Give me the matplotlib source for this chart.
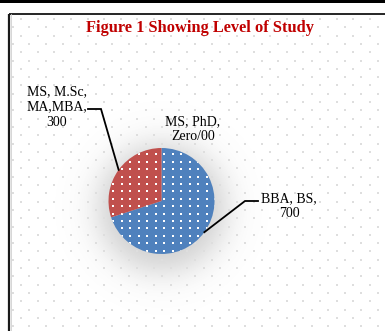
import numpy as np
import matplotlib
matplotlib.use("Agg")
import matplotlib.pyplot as plt
from matplotlib.patches import Rectangle

# Survey respondents by level of study
categories = ["BBA, BS", "MS, M.Sc,\nMA,MBA", "MS, PhD"]
values = [700, 300, 0]
value_labels = ["700", "300", "Zero/00"]
colors = ["#4F81BD", "#C0504D", "#9BBB59"]
title = "Figure 1 Showing Level of Study"

W, H = 385, 331
fig = plt.figure(figsize=(W / 100, H / 100), dpi=100)
ax = fig.add_axes([0, 0, 1, 1])
ax.set_xlim(0, W)
ax.set_ylim(0, H)
ax.axis("off")


def Y(py):
    """Convert a top-down pixel row to the axes' bottom-up coordinate."""
    return H - py


serif = ["Liberation Serif", "DejaVu Serif"]

# page rule along the top and the chart frame
ax.add_patch(Rectangle((0, Y(2.5)), W, 2.5, color="black", lw=0, zorder=5))
ax.plot([9, W], [Y(13.5), Y(13.5)], color="black", lw=1.2, zorder=5,
        solid_capstyle="butt")
ax.plot([9, 9], [Y(13.5), 0], color="#1a1a1a", lw=1.6, zorder=5,
        solid_capstyle="butt")
ax.plot([11, 11], [Y(14), 0], color="#d0d0d0", lw=0.6, zorder=5)

# soft shadow under the pie
cx, cy, R = 161.5, Y(201), 53
gx = np.linspace(cx - 130, cx + 130, 261)
gy = np.linspace(cy - 130, cy + 130, 261)
GX, GY = np.meshgrid(gx, gy)
dist = np.hypot(GX - cx, GY - (cy - 7))
alpha = 0.34 / (1 + np.exp((dist - 63) / 10.0))
glow = np.zeros(GX.shape + (4,))
glow[..., :3] = 0.45
glow[..., 3] = alpha
ax.imshow(glow, extent=(gx[0], gx[-1], gy[0], gy[-1]), origin="lower",
          zorder=1, interpolation="bilinear")
ax.set_aspect("auto")

# faint dotted background texture inside the frame
bx, by = [], []
row = 0
py = 19.0
while py < H:
    off = 4.5 if row % 2 == 0 else 12.8
    for px in np.arange(off, W, 16.6):
        if px > 12:
            bx.append(px)
            by.append(Y(py))
    py += 8.3
    row += 1
ax.scatter(bx, by, s=1.3, marker="s", color="#dedede", lw=0, zorder=2)

# the pie
wedges, _ = ax.pie(values, colors=colors, startangle=90, counterclock=False,
                   center=(cx, cy), radius=R,
                   wedgeprops=dict(linewidth=0, zorder=3))
for w in wedges:
    w.set_zorder(3)
ax.set_xlim(0, W)
ax.set_ylim(0, H)
ax.set_aspect("auto")
ax.axis("off")

# white dot fill pattern on the slices
dx, dy = 8.5, 7.4
px_grid = np.arange(cx - R - 4, cx + R + 8, dx)
py_grid = np.arange(cy - R - 4, cy + R + 8, dy)
PX, PY = np.meshgrid(px_grid, py_grid)
for w, v in zip(wedges, values):
    if v <= 0:
        continue
    sc = ax.scatter(PX.ravel(), PY.ravel(), s=2.6, marker="s", color="white",
                    lw=0, zorder=4)
    sc.set_clip_path(w)


def edge_point(w):
    ang = np.deg2rad((w.theta1 + w.theta2) / 2)
    return cx + R * np.cos(ang), cy + R * np.sin(ang)


# leader lines
ex, ey = edge_point(wedges[0])
ax.plot([ex, 245, 258], [ey, Y(201), Y(201)], color="black", lw=1.3,
        zorder=6, solid_joinstyle="miter")
ex, ey = edge_point(wedges[1])
ax.plot([ex, 101, 88], [ey, Y(109), Y(109)], color="black", lw=1.3,
        zorder=6, solid_joinstyle="miter")

# data labels
lab_kw = dict(fontsize=10, family=serif, ha="center", va="center",
              multialignment="center", linespacing=1.25, zorder=7,
              color="black")
ax.text(289, Y(206), f"{categories[0]},\n{value_labels[0]}", **lab_kw)
ax.text(57, Y(107), f"{categories[1]},\n{value_labels[1]}", **lab_kw)
ax.text(193, Y(129), f"{categories[2]},\n{value_labels[2]}", **lab_kw)

ax.text(200.5, Y(28), title, fontsize=11.8, fontweight="bold", family=serif,
        color="#C00000", ha="center", va="center", zorder=7)

fig.savefig("out.png", dpi=100)
